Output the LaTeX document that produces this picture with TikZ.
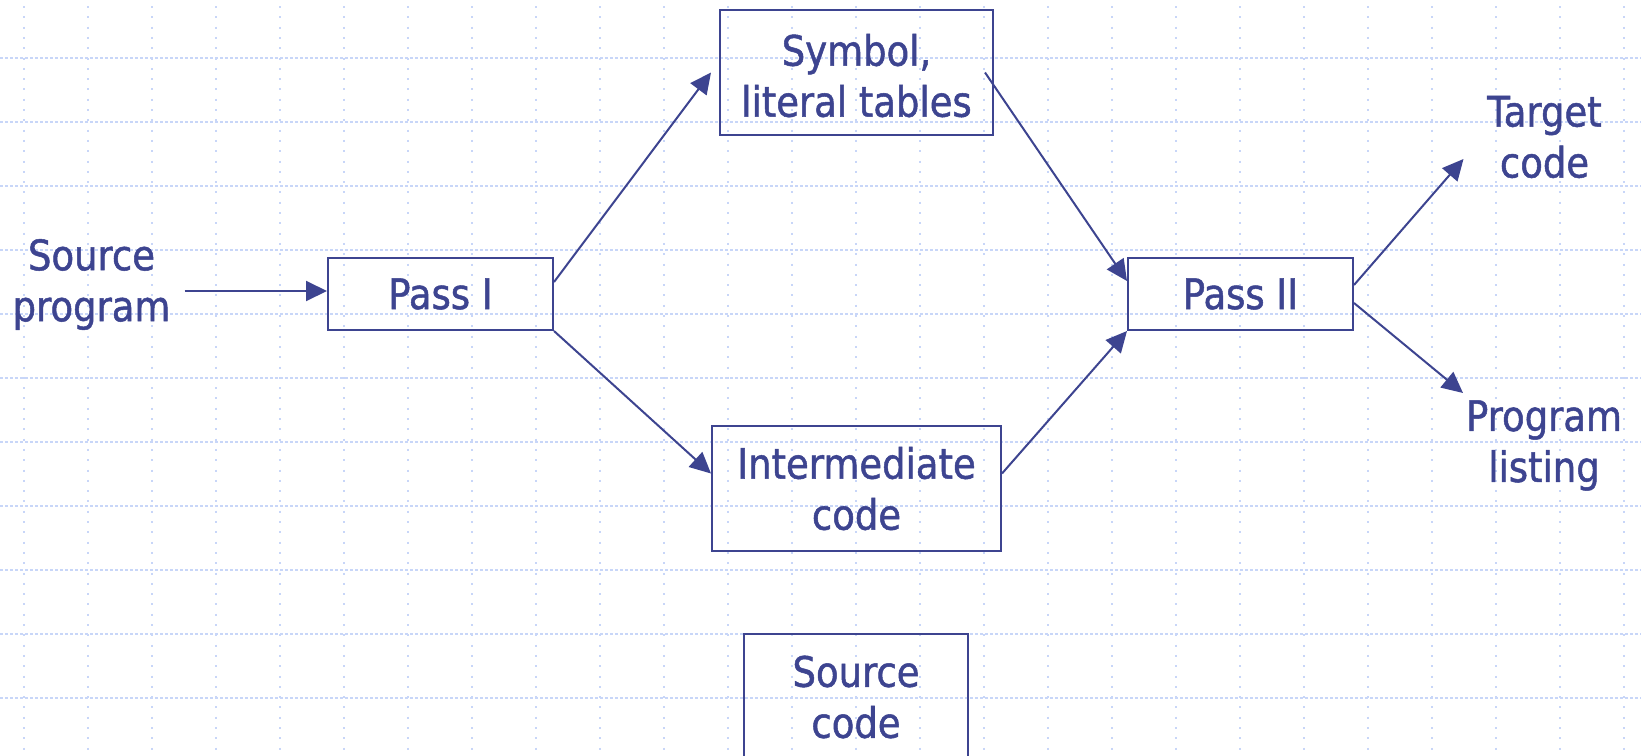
\documentclass[tikz,border=0pt]{standalone}
\usepackage{fontspec}
\setmainfont{DejaVu Sans}[FakeStretch=0.88,FakeBold=1.2]
\usetikzlibrary{arrows.meta,calc}
\definecolor{ink}{HTML}{3D4490}
\definecolor{gridblue}{HTML}{C8D6F8}
\newcommand\diagfont{\fontsize{42}{51}\selectfont}

\begin{document}
\begin{tikzpicture}[x=1pt,y=-1pt,
  box/.style={draw=ink, line width=2pt, inner sep=0pt, text=ink, align=center, font=\diagfont},
  caption/.style={text=ink, align=center, font=\diagfont, inner sep=0pt},
  arr/.style={draw=ink, line width=2pt, -{Triangle[length=21pt,width=20pt]}},
  gridh/.style={draw=gridblue, line width=1.6pt, dash pattern=on 2.5pt off 2.5pt},
  gridv/.style={draw=gridblue, line width=2pt, dash pattern=on 2pt off 8.3pt},
]
\useasboundingbox (0,0) rectangle (1641,755);
\clip (0,0) rectangle (1641,755);

% dotted background grid
\foreach \y in {58,122,...,698} \draw[gridh] (0,\y) -- (1641,\y);
\foreach \x in {24,88,...,1624} \draw[gridv] (\x,6) -- (\x,755);

% boxes
\node[box, minimum width=225pt, minimum height=72pt]  (passI)   at (440.5,294)  {Pass I};
\node[box, minimum width=273pt, minimum height=125pt] (sym)     at (856.5,72.5) {\rule{0pt}{38pt}Symbol,\\literal tables};
\node[box, minimum width=289pt, minimum height=125pt] (inter)   at (856.5,488.5) {Intermediate\\code};
\node[box, minimum width=225pt, minimum height=72pt]  (passII)  at (1240.5,294) {Pass II};
\node[box, minimum width=224pt, minimum height=126pt] (srccode) at (856,697)    {Source\\code};

% free labels
\node[caption] (srcprog) at (91.5,284.5)  {Source\\program};
\node[caption] (target)  at (1544.5,137)  {Target\\code};
\node[caption] (listing) at (1544,445.5)  {Program\\listing};

% connectors
\draw[arr] ([xshift=14pt]srcprog.east |- passI.west) ++(0,-3) -- ([yshift=3pt]passI.west);
\draw[arr] ([yshift=12pt]passI.east) -- ([xshift=-8pt]sym.west);
\draw[arr] (passI.south east) -- ([yshift=15pt]inter.west);
\draw[arr] ([xshift=-9pt]sym.east) -- ([yshift=13pt]passII.west);
\draw[arr] ([yshift=15pt]inter.east) -- (passII.south west);
\draw[arr] ([yshift=9pt]passII.east) -- ($(target.center)+(-81,22)$);
\draw[arr] ([yshift=-9pt]passII.east) -- ($(listing.center)+(-81,-52.5)$);
\end{tikzpicture}
\end{document}
